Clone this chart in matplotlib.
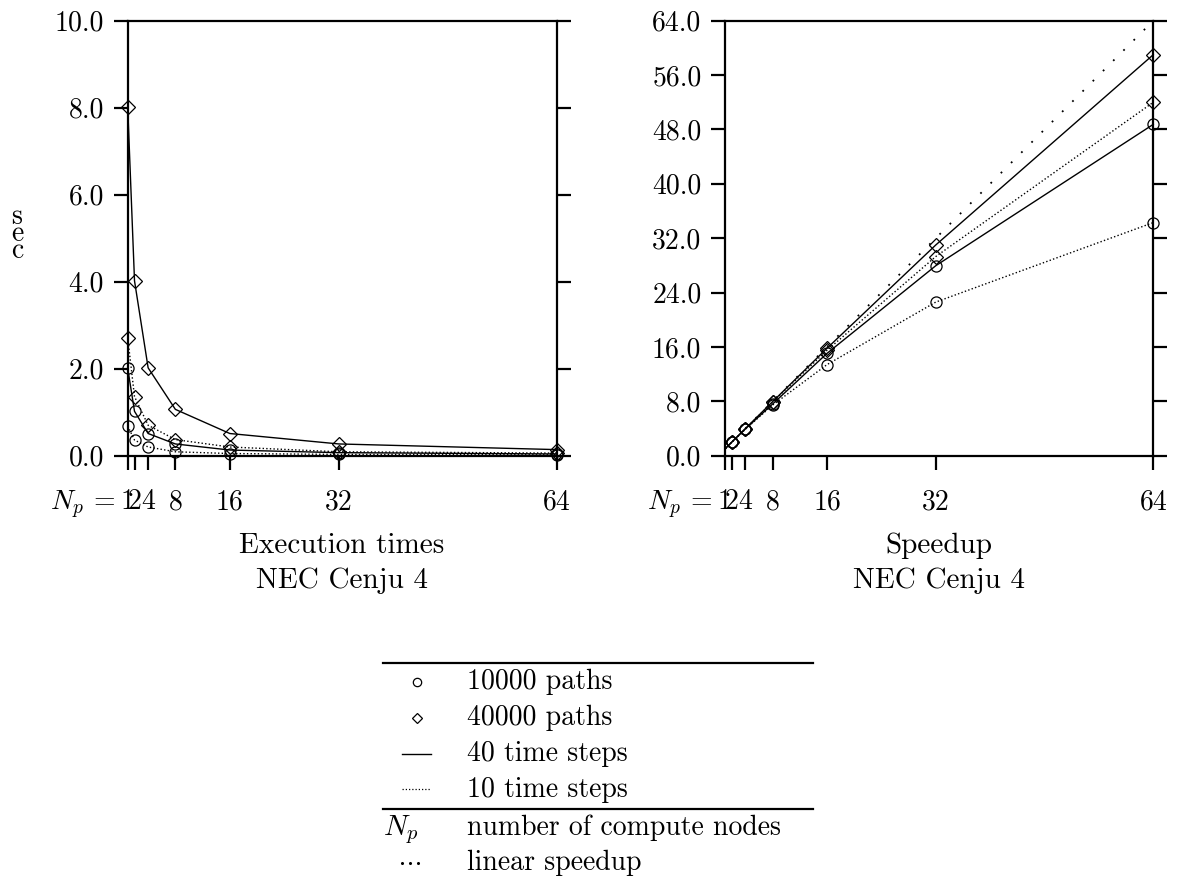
import matplotlib
matplotlib.use("Agg")
from matplotlib import pyplot as plt
from matplotlib.lines import Line2D

plt.rcParams['font.family'] = ['cmr10']
plt.rcParams['mathtext.fontset'] = 'cm'
plt.rcParams['axes.formatter.use_mathtext'] = True

# number of compute nodes
nodes = [1, 2, 4, 8, 16, 32, 64]

# execution times (sec)
time_10k_40 = [2.01, 1.02, 0.51, 0.27, 0.13, 0.07, 0.04]
time_10k_10 = [0.68, 0.36, 0.20, 0.09, 0.05, 0.03, 0.02]
time_40k_40 = [8.02, 4.02, 2.02, 1.065, 0.51, 0.27, 0.14]
time_40k_10 = [2.71, 1.36, 0.70, 0.37, 0.20, 0.09, 0.06]

# speedup
sp_10k_40 = [1, 2.0, 3.95, 7.6, 15.05, 27.95, 48.75]
sp_10k_10 = [1, 1.98, 3.9, 7.45, 13.4, 22.6, 34.3]
sp_40k_40 = [1, 2.0, 4.0, 7.95, 15.8, 31.0, 59.0]
sp_40k_10 = [1, 2.0, 3.95, 7.9, 15.5, 29.3, 52.0]
linear = [1, 64]

time_ticks = [0, 2, 4, 6, 8, 10]
sp_ticks = [0, 8, 16, 24, 32, 40, 48, 56, 64]

W, H = 1181, 881
fig = plt.figure(figsize=(W / 100, H / 100), dpi=100)

dot = (0, (1, 1.6))
fs = 20


def frame(ax, yticks):
    ax.set_xlim(1, 64)
    ax.set_ylim(yticks[0], yticks[-1])
    for s in ax.spines.values():
        s.set_linewidth(1.6)
    ax.set_xticks(nodes)
    ax.set_xticklabels([str(n) for n in nodes], fontsize=fs)
    ax.set_yticks(yticks)
    ax.set_yticklabels(["%.1f" % t for t in yticks], fontsize=fs)
    ax.tick_params(axis='both', direction='out', length=10, width=1.6, pad=7)
    ax.tick_params(axis='x', pad=14)
    ax.tick_params(axis='y', right=True)
    ax.annotate("$N_p$ =", xy=(1, 0), xycoords=('data', 'axes fraction'),
                xytext=(-9, -24), textcoords='offset points',
                ha='right', va='top', fontsize=fs)


def series(ax, ys, marker, ls, ms, me=None):
    ax.plot(nodes, ys, color='black', lw=1.0, linestyle=ls, marker=marker,
            ms=ms, mfc='none', mec='black', mew=0.9, markevery=me,
            clip_on=False, zorder=3)


# left: execution times
ax1 = fig.add_axes([127.7 / W, 1 - 455.7 / H, 429 / W, 435 / H])
frame(ax1, time_ticks)
series(ax1, time_10k_10, 'o', dot, 8)
series(ax1, time_40k_10, 'D', dot, 7.5)
series(ax1, time_10k_40, 'o', '-', 8)
series(ax1, time_40k_40, 'D', '-', 7.5)

# right: speedup
ax2 = fig.add_axes([725 / W, 1 - 455.7 / H, 428.3 / W, 435 / H])
frame(ax2, sp_ticks)
ax2.plot(linear, linear, color='black', lw=1.3, linestyle=(0, (1, 7)), zorder=2)
series(ax2, sp_10k_10, 'o', dot, 8, slice(1, None))
series(ax2, sp_40k_10, 'D', dot, 7.5, slice(1, None))
series(ax2, sp_10k_40, 'o', '-', 8, slice(1, None))
series(ax2, sp_40k_40, 'D', '-', 7.5, slice(1, None))

# y label "sec"
for i, ch in enumerate("sec"):
    fig.text(17 / W, 1 - (224 + 17 * i) / H, ch, ha='center', va='baseline', fontsize=fs)

# captions
for cx, first in [(342, "Execution times"), (939, "Speedup")]:
    fig.text(cx / W, 1 - 553 / H, first, ha='center', va='baseline', fontsize=21)
    fig.text(cx / W, 1 - 588 / H, "NEC Cenju 4", ha='center', va='baseline', fontsize=21)

# legend table
lg = fig.add_axes([0, 0, 1, 1])
lg.set_xlim(0, W)
lg.set_ylim(H, 0)
lg.axis('off')
lg.add_line(Line2D([383, 813], [663, 663], color='black', lw=1.6))
lg.add_line(Line2D([383, 813], [809, 809], color='black', lw=1.6))
lg.plot([417], [682], marker='o', ms=6, mfc='none', mec='black', mew=0.9)
lg.plot([417], [718], marker='D', ms=5.5, mfc='none', mec='black', mew=0.9)
lg.add_line(Line2D([402, 431], [754, 754], color='black', lw=1.0))
lg.add_line(Line2D([402, 431], [789, 789], color='black', lw=0.9, linestyle=dot))
lg.plot([402, 410, 418], [863, 863, 863], linestyle='none', marker='o', ms=1.2,
        mfc='black', mec='black')
lg.text(383, 835, "$N_p$", ha='left', va='baseline', fontsize=21)
rows = [(689, "10000 paths"), (725, "40000 paths"), (761, "40 time steps"),
        (797, "10 time steps"), (835, "number of compute nodes"), (870, "linear speedup")]
for yy, txt in rows:
    lg.text(467, yy, txt, ha='left', va='baseline', fontsize=20)

fig.savefig("out.png", dpi=100)
